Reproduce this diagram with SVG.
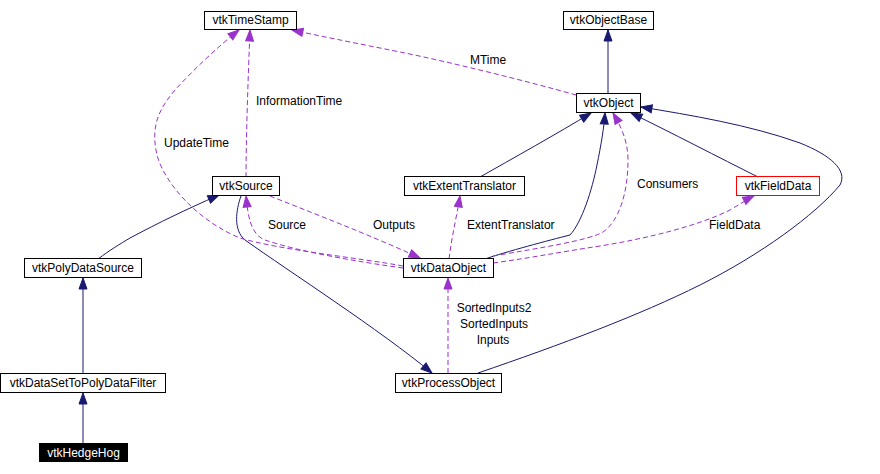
<svg xmlns="http://www.w3.org/2000/svg" width="880" height="474" viewBox="0 0 880 474">
<style>
.n rect{fill:#fff;stroke:#000;stroke-width:1}
.n text{font-family:"Liberation Sans",Arial,sans-serif;font-size:12px;text-anchor:middle;fill:#000}
.s{fill:none;stroke:#191970;stroke-width:1;marker-end:url(#an)}
.d{fill:none;stroke:#9a32cd;stroke-width:1;stroke-dasharray:5,3;marker-end:url(#ap)}
.l{font-family:"Liberation Sans",Arial,sans-serif;font-size:12px;fill:#000}
</style>
<defs>
<marker id="an" markerUnits="userSpaceOnUse" markerWidth="12" markerHeight="10" refX="11" refY="4" orient="auto" overflow="visible"><path d="M0,0 L11,4 L0,8 z" fill="#191970" stroke="#191970"/></marker>
<marker id="ap" markerUnits="userSpaceOnUse" markerWidth="12" markerHeight="10" refX="11" refY="4" orient="auto" overflow="visible"><path d="M0,0 L11,4 L0,8 z" fill="#9a32cd" stroke="#9a32cd"/></marker>
</defs>
<rect width="880" height="474" fill="#fff"/>
<g id="edges">
<path class="s" d="M608,93 L608,30"/>
<path class="s" d="M480,177 C510,160 560,132 591,113"/>
<path class="s" d="M485,259 C505,252 550,240 570,235 C582,222 592,190 597,165 C601,145 604,128 605,113"/>
<path class="s" d="M758,177 C720,158 670,132 631,113"/>
<path class="s" d="M478,373 C560,345 640,315 700,285 C760,255 815,215 840,185 C848,170 830,155 800,143 C750,125 690,115 641,107"/>
<path class="s" d="M241,196 C236,210 233,230 245,240 C290,272 380,330 432,373"/>
<path class="s" d="M98,259 C110,250 120,244 130,238 C160,222 185,210 219,195"/>
<path class="s" d="M83,373 L83,278"/>
<path class="s" d="M83,443 L83,393"/>
<path class="d" d="M576,95 C530,82 450,62 400,52 C350,42 315,35 292,30"/>
<path class="d" d="M246,177 C246,140 248,80 250,30"/>
<path class="d" d="M403,266 C360,258 280,250 240,238 C200,222 165,185 157,155 C150,125 160,108 175,90 C195,68 220,45 239,30"/>
<path class="d" d="M403,268 C360,262 300,252 265,240 C250,234 248,215 246,196"/>
<path class="d" d="M270,196 C310,212 370,235 420,258"/>
<path class="d" d="M449,259 C452,235 457,215 460,196"/>
<path class="d" d="M493,256 C540,248 590,240 603,232 C618,222 628,195 628,160 C628,140 620,125 613,113"/>
<path class="d" d="M493,263 C530,258 560,252 600,246 C650,238 700,225 730,210 C740,204 748,199 754,196"/>
<path class="d" d="M448,373 L448,278"/>
</g>
<g id="labels">
<text class="l" x="488" y="64" text-anchor="middle">MTime</text>
<text class="l" x="256" y="105">InformationTime</text>
<text class="l" x="164" y="147">UpdateTime</text>
<text class="l" x="268" y="229">Source</text>
<text class="l" x="373" y="229">Outputs</text>
<text class="l" x="467" y="229">ExtentTranslator</text>
<text class="l" x="637" y="188">Consumers</text>
<text class="l" x="709" y="229">FieldData</text>
<text class="l" x="494" y="312" text-anchor="middle">SortedInputs2</text>
<text class="l" x="494" y="328" text-anchor="middle">SortedInputs</text>
<text class="l" x="493" y="344" text-anchor="middle">Inputs</text>
</g>
<g id="vtkTimeStamp" class="n"><rect x="204.5" y="11.5" width="92" height="18"/><text x="250.5" y="24">vtkTimeStamp</text></g>
<g id="vtkObjectBase" class="n"><rect x="563.5" y="11.5" width="90" height="18"/><text x="608.5" y="24">vtkObjectBase</text></g>
<g id="vtkObject" class="n"><rect x="576.5" y="93.5" width="64" height="19"/><text x="608.5" y="107">vtkObject</text></g>
<g id="vtkSource" class="n"><rect x="212.5" y="176.5" width="67" height="19"/><text x="246" y="190">vtkSource</text></g>
<g id="vtkExtentTranslator" class="n"><rect x="404.5" y="176.5" width="120" height="19"/><text x="464.5" y="190">vtkExtentTranslator</text></g>
<g id="vtkFieldData" class="n"><rect x="736.5" y="176.5" width="83" height="19" style="stroke:#f00"/><text x="778" y="190">vtkFieldData</text></g>
<g id="vtkPolyDataSource" class="n"><rect x="24.5" y="258.5" width="117" height="19"/><text x="83" y="272">vtkPolyDataSource</text></g>
<g id="vtkDataObject" class="n"><rect x="403.5" y="258.5" width="90" height="19"/><text x="448.5" y="272">vtkDataObject</text></g>
<g id="vtkDataSetToPolyDataFilter" class="n"><rect x="0.5" y="373.5" width="165" height="19"/><text x="83" y="387">vtkDataSetToPolyDataFilter</text></g>
<g id="vtkProcessObject" class="n"><rect x="395.5" y="373.5" width="106" height="19"/><text x="448.5" y="387">vtkProcessObject</text></g>
<g id="vtkHedgeHog" class="n"><rect x="39.5" y="443.5" width="88" height="18" style="fill:#000"/><text x="83.5" y="457" style="fill:#fff">vtkHedgeHog</text></g>
</svg>
